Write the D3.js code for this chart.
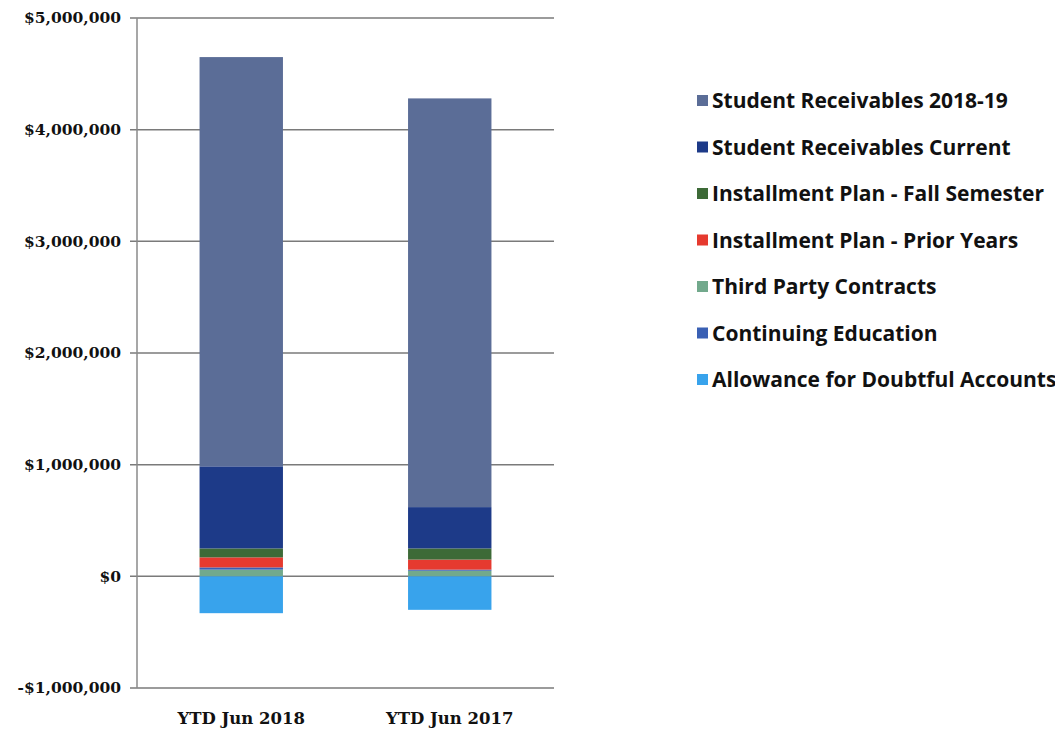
<!DOCTYPE html>
<html>
<head>
<meta charset="utf-8">
<script src="https://cdn.jsdelivr.net/npm/d3@7/dist/d3.min.js"></script>
<style>
  body { margin: 0; background: #fff; }
  .tick-label { font-family: "DejaVu Serif", "Liberation Serif", serif; font-weight: bold; font-size: 15.5px; fill: #111; }
  .cat-label { font-family: "DejaVu Serif", "Liberation Serif", serif; font-weight: bold; font-size: 16.5px; fill: #111; }
  .legend-label { font-family: "Liberation Sans Narrow", "Open Sans", sans-serif; font-weight: bold; font-size: 21px; fill: #111; }
</style>
</head>
<body>
<svg id="chart" width="1055" height="736"></svg>
<script>
// Categories and series (values in dollars)
const categories = ["YTD Jun 2018", "YTD Jun 2017"];
const seriesNames = [
  "Student Receivables 2018-19",
  "Student Receivables Current",
  "Installment Plan - Fall Semester",
  "Installment Plan - Prior Years",
  "Third Party Contracts",
  "Continuing Education",
  "Allowance for Doubtful Accounts"
];
const studentRec1819 = [3665000, 3660000];
const studentRecCurrent = [735000, 370000];
const installFall = [80000, 100000];
const installPrior = [90000, 90000];
const thirdParty = [60000, 50000];
const contEd = [20000, 10000];
const allowance = [-330000, -300000];
const tickValues = [-1000000, 0, 1000000, 2000000, 3000000, 4000000, 5000000];

const colors = ["#5b6d97", "#1d3a88", "#3d6a37", "#e63a2f", "#72a98c", "#3a60b4", "#38a3ec"];

// stacking order from bottom (positive side)
const stackOrder = [
  { name: seriesNames[4], values: thirdParty, color: colors[4] },
  { name: seriesNames[5], values: contEd, color: colors[5] },
  { name: seriesNames[3], values: installPrior, color: colors[3] },
  { name: seriesNames[2], values: installFall, color: colors[2] },
  { name: seriesNames[1], values: studentRecCurrent, color: colors[1] },
  { name: seriesNames[0], values: studentRec1819, color: colors[0] }
];

const svg = d3.select("#chart");
const plot = { left: 137, right: 554, top: 18, bottom: 688 };

const x = d3.scaleBand()
    .domain(categories)
    .range([plot.left, plot.right])
    .paddingInner(0.6)
    .paddingOuter(0.3);

const y = d3.scaleLinear()
    .domain([-1000000, 5000000])
    .range([plot.bottom, plot.top]);

// gridlines
svg.append("g")
  .selectAll("line")
  .data(tickValues)
  .join("line")
    .attr("x1", plot.left - 7)
    .attr("x2", plot.right)
    .attr("y1", d => y(d))
    .attr("y2", d => y(d))
    .attr("stroke", "#7a7a7a")
    .attr("stroke-width", 1.5);

// left axis line
svg.append("line")
    .attr("x1", plot.left).attr("x2", plot.left)
    .attr("y1", plot.top).attr("y2", plot.bottom)
    .attr("stroke", "#8a8a8a")
    .attr("stroke-width", 1.5);

// tick labels
const fmt = d => (d < 0 ? "-$" : "$") + d3.format(",")(Math.abs(d));
svg.append("g")
  .selectAll("text")
  .data(tickValues)
  .join("text")
    .attr("class", "tick-label")
    .attr("x", plot.left - 16)
    .attr("y", d => y(d))
    .attr("dy", "0.35em")
    .attr("text-anchor", "end")
    .text(fmt);

// stacked bars
categories.forEach((cat, i) => {
  let base = 0;
  stackOrder.forEach(s => {
    const v = s.values[i];
    svg.append("rect")
        .attr("x", x(cat))
        .attr("width", x.bandwidth())
        .attr("y", y(base + v))
        .attr("height", y(base) - y(base + v))
        .attr("fill", s.color);
    base += v;
  });
  // negative allowance
  svg.append("rect")
      .attr("x", x(cat))
      .attr("width", x.bandwidth())
      .attr("y", y(0))
      .attr("height", y(allowance[i]) - y(0))
      .attr("fill", colors[6]);
});

// category labels
svg.append("g")
  .selectAll("text")
  .data(categories)
  .join("text")
    .attr("class", "cat-label")
    .attr("x", d => x(d) + x.bandwidth() / 2)
    .attr("y", 724)
    .attr("text-anchor", "middle")
    .text(d => d);

// legend
const legend = svg.append("g").attr("transform", "translate(697,101)");
seriesNames.forEach((name, i) => {
  const g = legend.append("g").attr("transform", `translate(0,${i * 46.5})`);
  g.append("rect")
      .attr("x", 0).attr("y", -6)
      .attr("width", 11).attr("height", 11)
      .attr("fill", colors[i]);
  g.append("text")
      .attr("class", "legend-label")
      .attr("x", 15)
      .attr("dy", "0.35em")
      .text(name);
});
</script>
</body>
</html>
